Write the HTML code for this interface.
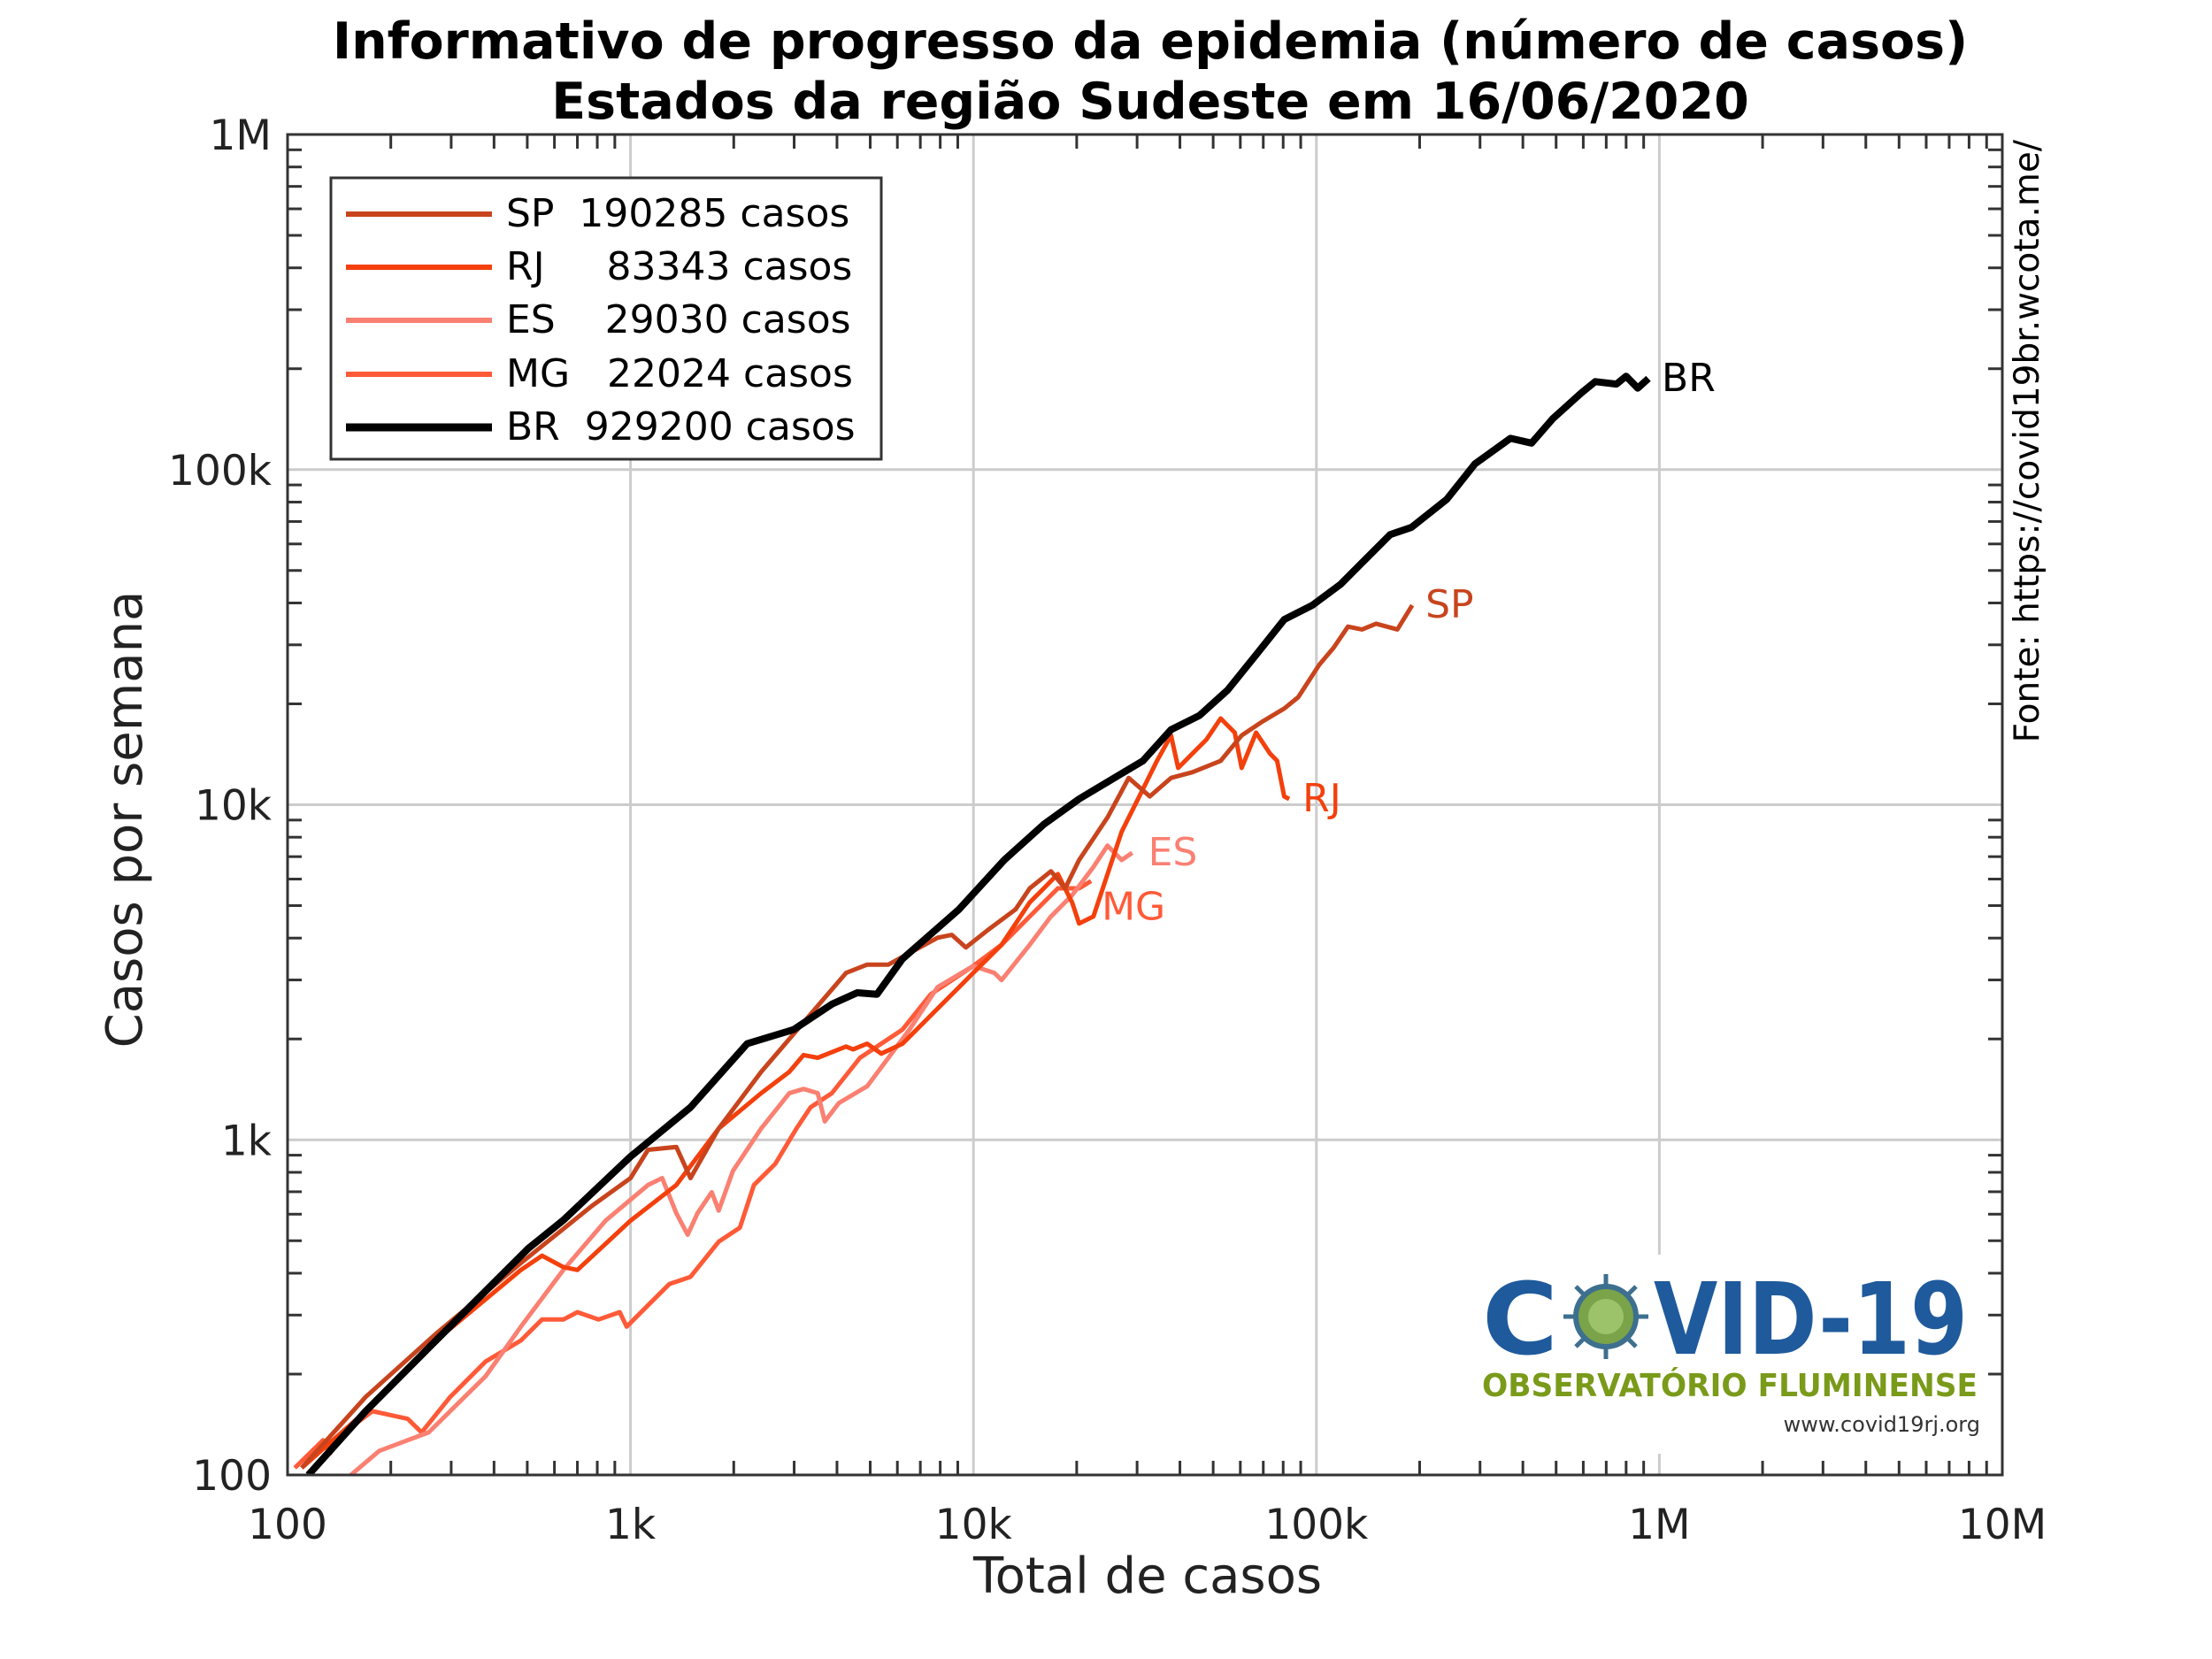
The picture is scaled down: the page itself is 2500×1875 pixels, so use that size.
<!DOCTYPE html>
<html><head><meta charset="utf-8"><style>
html,body{margin:0;padding:0;background:#fff;}
svg{display:block;font-family:"DejaVu Sans","Liberation Sans",sans-serif;}
</style></head><body>
<svg id="chart" width="2500" height="1875" viewBox="0 0 2500 1875" xmlns="http://www.w3.org/2000/svg">
<rect width="2500" height="1875" fill="#fff"/>
<text x="1300" y="66" text-anchor="middle" font-size="57" font-weight="bold">Informativo de progresso da epidemia (número de casos)</text>
<text x="1300" y="134" text-anchor="middle" font-size="57" font-weight="bold">Estados da região Sudeste em 16/06/2020</text>
<g id="grid"></g>
<g id="logo">
<rect x="1667" y="1418" width="580" height="225" fill="#fff"/>
<text x="1675" y="1530" font-size="112" font-weight="900" fill="#1f5a9c" textLength="86" lengthAdjust="spacingAndGlyphs">C</text>
<g transform="translate(1815,1488)">
<circle r="34" fill="#7aa34a" stroke="#3d6f8f" stroke-width="6"/>
<circle r="20" fill="#9cc36a"/>
<g stroke="#3d6f8f" stroke-width="5">
<line x1="0" y1="-36" x2="0" y2="-48"/><line x1="0" y1="36" x2="0" y2="48"/><line x1="-36" y1="0" x2="-48" y2="0"/><line x1="36" y1="0" x2="48" y2="0"/>
<line x1="26" y1="26" x2="34" y2="34"/><line x1="-26" y1="26" x2="-34" y2="34"/><line x1="26" y1="-26" x2="34" y2="-34"/><line x1="-26" y1="-26" x2="-34" y2="-34"/>
</g></g>
<text x="1869" y="1530" font-size="112" font-weight="900" fill="#1f5a9c" textLength="355" lengthAdjust="spacingAndGlyphs">VID-19</text>
<text x="1675" y="1578" font-size="36" font-weight="bold" fill="#7a9a1a" textLength="560" lengthAdjust="spacingAndGlyphs">OBSERVATÓRIO FLUMINENSE</text>
<text x="2238" y="1618" text-anchor="end" font-size="24" fill="#333">www.covid19rj.org</text>
</g>
<g id="series"></g>
<g id="axes"></g>
<g>
<rect x="374" y="201" width="622" height="318" fill="#fff" stroke="#333" stroke-width="3"/>
<line x1="391" y1="242" x2="556" y2="242" stroke="#c8441d" stroke-width="6"/>
<text x="572" y="256" font-size="44" xml:space="preserve">SP  190285 casos</text>
<line x1="391" y1="302" x2="556" y2="302" stroke="#f4400c" stroke-width="6"/>
<text x="572" y="316" font-size="44" xml:space="preserve">RJ     83343 casos</text>
<line x1="391" y1="362" x2="556" y2="362" stroke="#fa8072" stroke-width="6"/>
<text x="572" y="376" font-size="44" xml:space="preserve">ES    29030 casos</text>
<line x1="391" y1="423" x2="556" y2="423" stroke="#ff5a38" stroke-width="6"/>
<text x="572" y="437" font-size="44" xml:space="preserve">MG   22024 casos</text>
<line x1="391" y1="483" x2="556" y2="483" stroke="#000" stroke-width="9"/>
<text x="572" y="497" font-size="44" xml:space="preserve">BR  929200 casos</text>
</g>
<text transform="translate(160,926) rotate(-90)" text-anchor="middle" font-size="56" fill="#222">Casos por semana</text>
<text x="1297" y="1800" text-anchor="middle" font-size="56" fill="#222">Total de casos</text>
<text transform="translate(2304,158) rotate(-90)" text-anchor="end" font-size="39">Fonte: https://covid19br.wcota.me/</text>
</svg>
<script>
const xTickVals=[100,1e3,1e4,1e5,1e6,1e7];
const xTickLabels=["100","1k","10k","100k","1M","10M"];
const yTickVals=[100,1e3,1e4,1e5,1e6];
const yTickLabels=["100","1k","10k","100k","1M"];
const brX=[115,169,271,502,636,1000,1496,2188,2992,3865,4580,5233,6209,9078,12300,16030,20320,24600,31190,37670,45600,55080,66680,80540,97300,117700,135800,164100,189200,239900,289900,368000,424000,489000,591000,650000,750000,800000,865000,929200];
const brY=[100,155,252,473,575,891,1250,1936,2133,2540,2747,2720,3467,4875,6840,8730,10400,11690,13520,16750,18460,21980,28000,35700,39370,45500,52700,64000,67200,81500,104000,124000,120000,142000,169000,183000,180000,190000,175000,187000];
const spX=[110,169,271,479,770,1000,1125,1360,1496,1808,2404,3196,4250,4900,5650,7860,8650,9500,10960,13270,14590,16830,18500,20330,24600,28370,32670,37670,43450,52570,60530,69830,80540,88500,102000,112200,123600,135800,149300,172200,190285];
const spY=[105,171,264,429,634,769,934,952,769,1081,1596,2241,3148,3334,3334,4010,4090,3750,4210,4870,5630,6330,5630,6840,9160,12020,10590,12020,12500,13520,16100,17750,19360,20930,26180,29400,34000,33350,34700,33350,39370];
const rjX=[110,169,271,479,552,637,700,1000,1360,1808,2404,2905,3196,3515,4250,4455,4900,5385,6210,7510,9080,9980,12080,14590,16040,17620,19390,20330,22380,27050,31190,34290,37670,39530,43450,47760,52570,57780,60530,66680,73280,76800,80540,83343];
const rjY=[105,155,252,409,451,417,409,574,733,1081,1378,1596,1791,1757,1899,1862,1936,1808,1936,2351,2856,3148,3820,5110,5630,6210,5110,4420,4640,8310,11120,13520,16100,12880,14190,15630,18090,16410,12880,16410,14190,13520,10590,10400];
const esX=[153,185,224,258,298,378,479,637,846,1125,1237,1360,1468,1568,1725,1808,1988,2404,2905,3196,3515,3685,4052,4900,5650,6510,7860,9980,11510,12080,14590,16830,19390,22380,24600,27050,29030];
const esY=[100,118,127,134,155,197,277,409,574,733,769,604,521,604,698,615,807,1081,1378,1419,1378,1135,1288,1446,1757,2134,2856,3302,3148,2998,3820,4640,5370,6520,7550,6840,7190];
const mgX=[105,127,133,146,177,224,246,298,378,479,552,637,700,807,930,975,1125,1297,1496,1808,2084,2291,2643,3048,3350,3865,4670,6210,7510,9980,12080,14590,17620,20330,22024];
const mgY=[105,127,116,134,155,147,134,171,218,252,291,291,306,291,306,277,321,371,390,497,547,733,848,1081,1250,1378,1757,2134,2720,3302,3820,4640,5630,5630,5920];
const NS='http://www.w3.org/2000/svg';
const L=325,R=2263,T=152,B=1667;
function X(v){return L+(R-L)/5*(Math.log10(v)-2);}
function Y(v){return B-(B-T)/4*(Math.log10(v)-2);}
function mk(tag,attrs,parent){const e=document.createElementNS(NS,tag);for(const k in attrs)e.setAttribute(k,attrs[k]);parent.appendChild(e);return e;}
const grid=document.getElementById('grid'),axes=document.getElementById('axes'),series=document.getElementById('series');
xTickVals.forEach((v,i)=>{
  if(i>0&&i<xTickVals.length-1){const g=mk('line',{x1:X(v),x2:X(v),y1:T,y2:B,stroke:'#ccc','stroke-width':3},grid);
  
  }
  const t=mk('text',{x:X(v),y:B+72,'text-anchor':'middle','font-size':47,fill:'#222'},axes);t.textContent=xTickLabels[i];
  
  
  if(i<xTickVals.length-1){for(let m=2;m<=9;m++){const xv=X(v*m);
    mk('line',{x1:xv,x2:xv,y1:B,y2:B-16,stroke:'#333','stroke-width':3},axes);mk('line',{x1:xv,x2:xv,y1:T,y2:T+16,stroke:'#333','stroke-width':3},axes);}}
});
yTickVals.forEach((v,i)=>{
  if(i>0&&i<yTickVals.length-1){const g=mk('line',{x1:L,x2:R,y1:Y(v),y2:Y(v),stroke:'#ccc','stroke-width':3},grid);
  
  }
  const t=mk('text',{x:L-18,y:Y(v)+17,'text-anchor':'end','font-size':47,fill:'#222'},axes);t.textContent=yTickLabels[i];
  
  
  if(i<yTickVals.length-1){for(let m=2;m<=9;m++){const yv=Y(v*m);
    mk('line',{x1:L,x2:L+16,y1:yv,y2:yv,stroke:'#333','stroke-width':3},axes);mk('line',{x1:R,x2:R-16,y1:yv,y2:yv,stroke:'#333','stroke-width':3},axes);}}
});
mk('rect',{x:L,y:T,width:R-L,height:B-T,fill:'none',stroke:'#333','stroke-width':3},axes);
function draw(xs,ys,color,w,name,label,dx,dy){
  const d=xs.map((x,i)=>(i?'L':'M')+X(x).toFixed(1)+','+Y(ys[i]).toFixed(1)).join(' ');
  const p=mk('path',{d:d,fill:'none',stroke:color,'stroke-width':w,'stroke-linejoin':'round'},series);
  
  
  const n=xs.length-1;
  const t=mk('text',{x:X(xs[n])+dx,y:Y(ys[n])+dy,'font-size':44,fill:label==='BR'?'#000':color},series);t.textContent=label;
  
  
}
const clip=mk('clipPath',{id:'pc'},document.getElementById('chart'));
mk('rect',{x:L,y:T,width:R-L,height:B-T},clip);
series.setAttribute('clip-path','url(#pc)');
draw(mgX,mgY,'#ff5a38',5,'series-mg','MG',12,44);
draw(esX,esY,'#fa8072',5,'series-es','ES',18,14);
draw(rjX,rjY,'#f4400c',5,'series-rj','RJ',15,14);
draw(spX,spY,'#c8441d',5,'series-sp','SP',15,14);
draw(brX,brY,'#000',8,'series-br','BR',15,14);
</script>
</body></html>
